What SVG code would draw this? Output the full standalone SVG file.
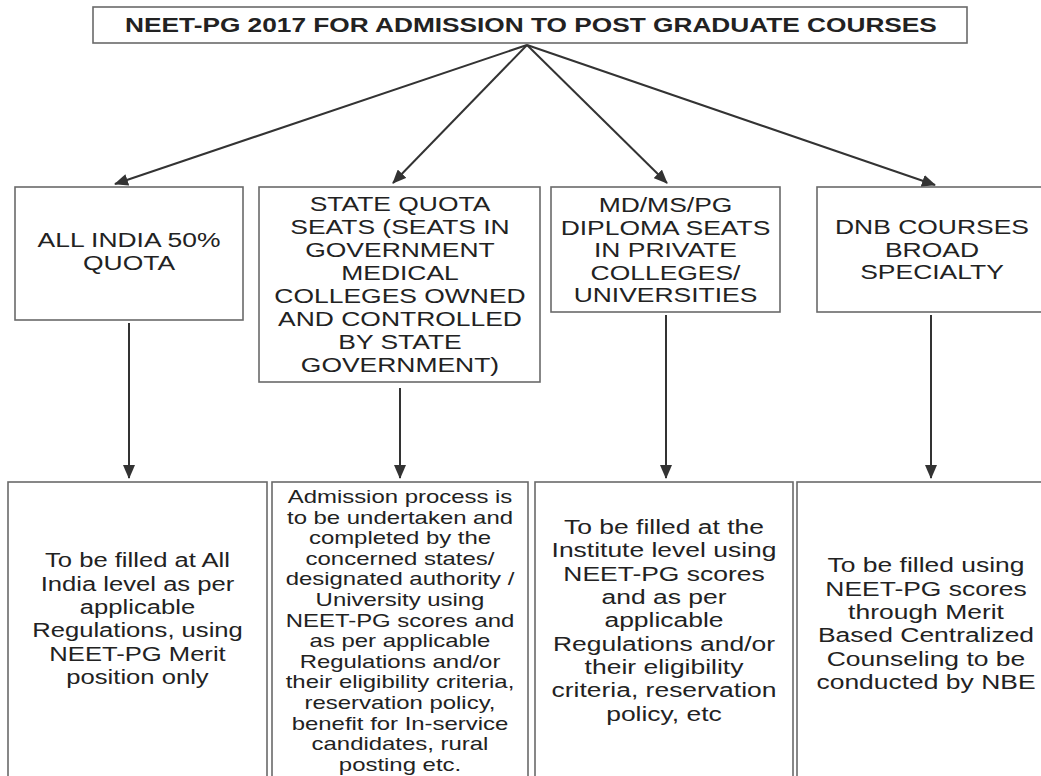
<svg xmlns="http://www.w3.org/2000/svg" width="1041" height="776" viewBox="0 0 1041 776">
<style>
.box{fill:#fff;stroke:#6a6a6a;stroke-width:1.6}
.t{font-family:"Liberation Sans",Arial,sans-serif;font-size:21px;fill:#222;text-anchor:middle}
.s{font-size:18px}
.b{font-weight:bold}
.c{stroke:#333;stroke-width:2;fill:none}
</style>
<defs>
<marker id="ah" markerUnits="userSpaceOnUse" markerWidth="14" markerHeight="12" refX="13" refY="6" orient="auto">
<path d="M0,0 L14,6 L0,12 z" fill="#333"/>
</marker>
</defs>
<rect width="1041" height="776" fill="#fff"/>

<g id="title">
<rect class="box" x="93" y="7" width="874" height="36"/>
<text class="t b" transform="translate(531,0) scale(1.25,1)"><tspan x="0" y="32">NEET-PG 2017 FOR ADMISSION TO POST GRADUATE COURSES</tspan></text>
</g>

<g id="allindia">
<rect class="box" x="15" y="187" width="228" height="133"/>
<text class="t" transform="translate(129,0) scale(1.26,1)"><tspan x="0" y="247">ALL INDIA 50%</tspan><tspan x="0" y="270">QUOTA</tspan></text>
</g>

<g id="statequota">
<rect class="box" x="259" y="187" width="281" height="195"/>
<text class="t" transform="translate(400,0) scale(1.26,1)"><tspan x="0" y="211">STATE QUOTA</tspan><tspan x="0" y="234">SEATS (SEATS IN</tspan><tspan x="0" y="257">GOVERNMENT</tspan><tspan x="0" y="280">MEDICAL</tspan><tspan x="0" y="303">COLLEGES OWNED</tspan><tspan x="0" y="326">AND CONTROLLED</tspan><tspan x="0" y="349">BY STATE</tspan><tspan x="0" y="372">GOVERNMENT)</tspan></text>
</g>

<g id="private">
<rect class="box" x="551" y="187" width="229" height="125"/>
<text class="t" transform="translate(665.5,0) scale(1.26,1)"><tspan x="0" y="212">MD/MS/PG</tspan><tspan x="0" y="235">DIPLOMA SEATS</tspan><tspan x="0" y="257.5">IN PRIVATE</tspan><tspan x="0" y="280">COLLEGES/</tspan><tspan x="0" y="302.5">UNIVERSITIES</tspan></text>
</g>

<g id="dnb">
<rect class="box" x="817" y="187" width="230" height="125"/>
<text class="t" transform="translate(932,0) scale(1.26,1)"><tspan x="0" y="234">DNB COURSES</tspan><tspan x="0" y="257.5">BROAD</tspan><tspan x="0" y="279">SPECIALTY</tspan></text>
</g>

<g id="allindia-fill">
<rect class="box" x="8" y="482" width="259" height="310"/>
<text class="t" transform="translate(137.5,0) scale(1.22,1)"><tspan x="0" y="567.5">To be filled at All</tspan><tspan x="0" y="591">India level as per</tspan><tspan x="0" y="614">applicable</tspan><tspan x="0" y="637.5">Regulations, using</tspan><tspan x="0" y="661">NEET-PG Merit</tspan><tspan x="0" y="684">position only</tspan></text>
</g>

<g id="state-fill">
<rect class="box" x="272" y="482" width="256" height="310"/>
<text class="t s" transform="translate(400,0) scale(1.33,1)"><tspan x="0" y="503">Admission process is</tspan><tspan x="0" y="523.6">to be undertaken and</tspan><tspan x="0" y="544.2">completed by the</tspan><tspan x="0" y="564.8">concerned states/</tspan><tspan x="0" y="585.4">designated authority /</tspan><tspan x="0" y="606">University using</tspan><tspan x="0" y="626.6">NEET-PG scores and</tspan><tspan x="0" y="647.2">as per applicable</tspan><tspan x="0" y="667.8">Regulations and/or</tspan><tspan x="0" y="688.4">their eligibility criteria,</tspan><tspan x="0" y="709">reservation policy,</tspan><tspan x="0" y="729.6">benefit for In-service</tspan><tspan x="0" y="750.2">candidates, rural</tspan><tspan x="0" y="770.8">posting etc.</tspan></text>
</g>

<g id="private-fill">
<rect class="box" x="535" y="482" width="258" height="310"/>
<text class="t" transform="translate(664,0) scale(1.26,1)"><tspan x="0" y="534">To be filled at the</tspan><tspan x="0" y="557.5">Institute level using</tspan><tspan x="0" y="581">NEET-PG scores</tspan><tspan x="0" y="604">and as per</tspan><tspan x="0" y="627.5">applicable</tspan><tspan x="0" y="651">Regulations and/or</tspan><tspan x="0" y="674">their eligibility</tspan><tspan x="0" y="697.5">criteria, reservation</tspan><tspan x="0" y="721">policy, etc</tspan></text>
</g>

<g id="dnb-fill">
<rect class="box" x="797" y="482" width="258" height="310"/>
<text class="t" transform="translate(926,0) scale(1.26,1)"><tspan x="0" y="572.5">To be filled using</tspan><tspan x="0" y="596">NEET-PG scores</tspan><tspan x="0" y="619">through Merit</tspan><tspan x="0" y="642.5">Based Centralized</tspan><tspan x="0" y="666">Counseling to be</tspan><tspan x="0" y="689">conducted by NBE</tspan></text>
</g>

<g id="connectors">
<line class="c" x1="527" y1="45" x2="115" y2="184" marker-end="url(#ah)"/>
<line class="c" x1="527" y1="45" x2="393" y2="183" marker-end="url(#ah)"/>
<line class="c" x1="527" y1="45" x2="667" y2="183" marker-end="url(#ah)"/>
<line class="c" x1="527" y1="45" x2="935" y2="185" marker-end="url(#ah)"/>
<line class="c" x1="129" y1="323" x2="129" y2="478" marker-end="url(#ah)"/>
<line class="c" x1="400" y1="388" x2="400" y2="478" marker-end="url(#ah)"/>
<line class="c" x1="666" y1="315" x2="666" y2="478" marker-end="url(#ah)"/>
<line class="c" x1="931" y1="315" x2="931" y2="478" marker-end="url(#ah)"/>
</g>
</svg>
